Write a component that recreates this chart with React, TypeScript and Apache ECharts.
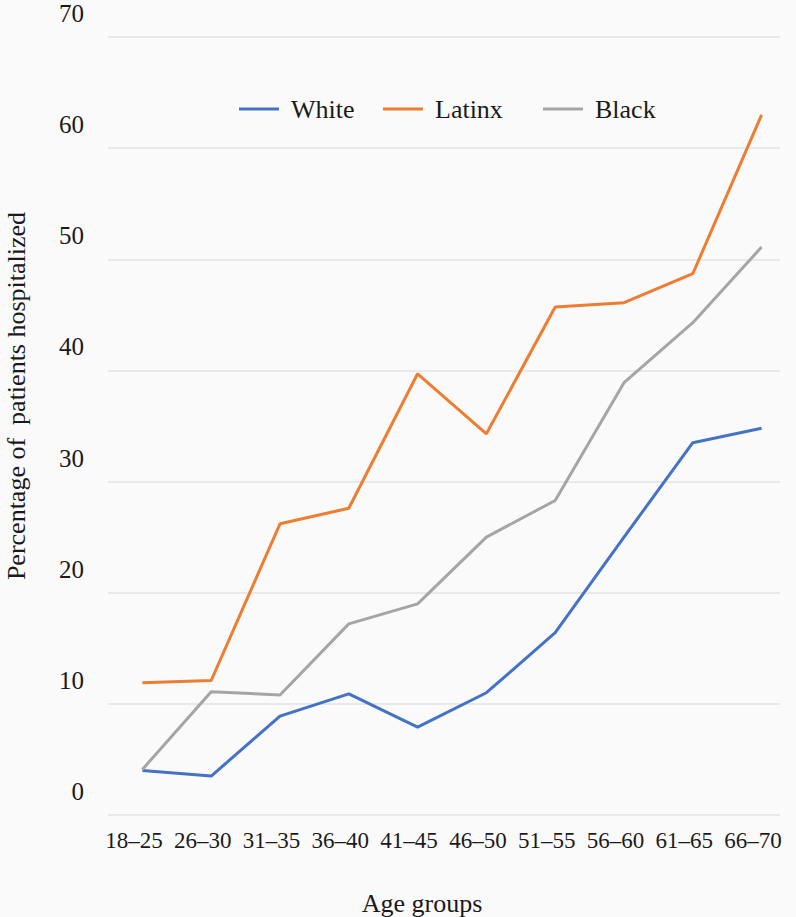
import React, { useEffect, useRef } from "react";
import * as echarts from "echarts";

const categories = ["18–25", "26–30", "31–35", "36–40", "41–45", "46–50", "51–55", "56–60", "61–65", "66–70"];
const whiteValues = [4.0, 3.5, 8.9, 10.9, 7.9, 11.0, 16.4, 25.0, 33.5, 34.8];
const latinxValues = [11.9, 12.1, 26.2, 27.6, 39.7, 34.3, 45.7, 46.1, 48.7, 63.0];
const blackValues = [4.1, 11.1, 10.8, 17.2, 19.0, 25.0, 28.3, 38.9, 44.3, 51.1];
const yMin = 0;
const yMax = 70;
const yInterval = 10;

const FONT = "'Liberation Serif', 'DejaVu Serif', serif";
const TEXT = "#1a1a1a";

export default function App() {
  const ref = useRef<HTMLDivElement>(null);
  useEffect(() => {
    if (!ref.current) return;
    const chart = echarts.init(ref.current, undefined, { renderer: "svg" });
    const legendBase = {
      top: 96,
      padding: 0,
      itemWidth: 40,
      itemHeight: 3,
      icon: "rect",
      textStyle: { fontFamily: FONT, fontSize: 26, color: TEXT, padding: [0, 0, 0, 7] },
    };
    chart.setOption({
      animation: false,
      backgroundColor: "#fafafa",
      textStyle: { fontFamily: FONT },
      grid: [
        { left: 108, right: 0, top: 37, bottom: 102 },
        { left: 108, right: 16, top: 37, bottom: 102 },
      ],
      legend: [
        { ...legendBase, left: 239, data: ["White"] },
        { ...legendBase, left: 383, data: ["Latinx"] },
        { ...legendBase, left: 543, data: ["Black"] },
      ],
      xAxis: [
        {
          type: "category",
          gridIndex: 0,
          data: categories,
          boundaryGap: true,
          axisLine: { show: false },
          axisTick: { show: false },
          axisLabel: {
            fontFamily: FONT,
            fontSize: 23,
            color: TEXT,
            margin: 14,
            interval: 0,
            padding: [0, 17, 0, 0],
          },
        },
        { type: "value", gridIndex: 1, show: false, min: 0, max: 1 },
      ],
      yAxis: [
        { type: "value", gridIndex: 0, min: yMin, max: yMax, interval: yInterval, show: false },
        {
          type: "value",
          gridIndex: 1,
          min: yMin,
          max: yMax,
          interval: yInterval,
          axisLine: { show: false },
          axisTick: { show: false },
          splitLine: { show: true, lineStyle: { color: "#e3e3e3", width: 1.5 } },
          axisLabel: {
            fontFamily: FONT,
            fontSize: 25,
            color: TEXT,
            margin: 24,
            verticalAlign: "bottom",
            padding: [0, 0, 11, 0],
          },
        },
      ],
      series: [
        {
          name: "White",
          type: "line",
          xAxisIndex: 0,
          yAxisIndex: 0,
          data: whiteValues,
          symbol: "none",
          color: "#4472C4",
          lineStyle: { width: 3, color: "#4472C4" },
        },
        {
          name: "Latinx",
          type: "line",
          xAxisIndex: 0,
          yAxisIndex: 0,
          data: latinxValues,
          symbol: "none",
          color: "#ED7D31",
          lineStyle: { width: 3, color: "#ED7D31" },
        },
        {
          name: "Black",
          type: "line",
          xAxisIndex: 0,
          yAxisIndex: 0,
          data: blackValues,
          symbol: "none",
          color: "#A5A5A5",
          lineStyle: { width: 3, color: "#A5A5A5" },
        },
      ],
      graphic: [
        {
          type: "text",
          x: 16,
          y: 396,
          rotation: Math.PI / 2,
          style: {
            text: "Percentage of  patients hospitalized",
            font: `26px ${FONT}`,
            fill: TEXT,
            textAlign: "center",
            textVerticalAlign: "middle",
          },
        },
        {
          type: "text",
          x: 422,
          y: 903,
          style: {
            text: "Age groups",
            font: `26px ${FONT}`,
            fill: TEXT,
            textAlign: "center",
            textVerticalAlign: "middle",
          },
        },
      ],
    });
    return () => chart.dispose();
  }, []);
  return (
    <div
      ref={ref}
      style={{ position: "fixed", left: 0, top: 0, width: 796, height: 917 }}
    />
  );
}
